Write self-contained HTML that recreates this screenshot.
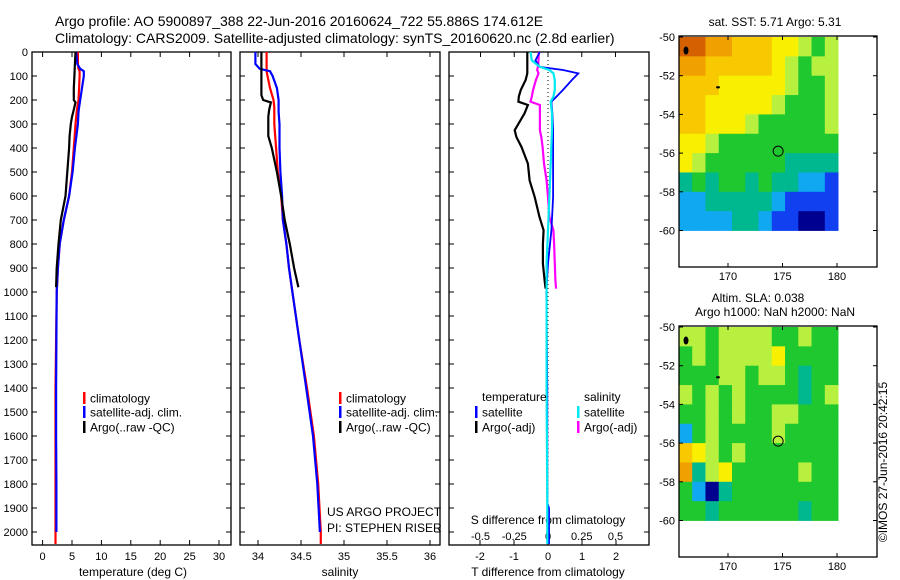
<!DOCTYPE html>
<html><head><meta charset="utf-8">
<style>
body{margin:0;background:#fff;}
svg{display:block;font-family:"Liberation Sans",sans-serif;}
text{fill:#000;}
</style></head>
<body>
<svg id="fig" width="900" height="580" viewBox="0 0 900 580" xmlns="http://www.w3.org/2000/svg">
<text x="55" y="26" font-size="14">Argo profile: AO 5900897_388 22-Jun-2016 20160624_722 55.886S 174.612E</text>
<text x="55" y="43" font-size="14">Climatology: CARS2009. Satellite-adjusted climatology: synTS_20160620.nc (2.8d earlier)</text>
<g id="p1"></g>
<g id="p2"></g>
<g id="p3"></g>
<g id="m1"></g>
<g id="m2"></g>
<text x="884" y="462" font-size="12" text-anchor="middle" transform="rotate(-90 884 462)" dominant-baseline="middle">©IMOS 27-Jun-2016 20:42:15</text>
</svg>
<script>
// ---- profile data ----
const depthClim = [0,20,50,70,80,100,150,200,230,250,300,400,500,600,700,800,900,1000,1200,1400,1600,1800,2000,2050];
const tempClim  = [6.0,6.0,6.0,6.1,6.3,6.3,6.2,6.1,5.9,5.8,5.6,5.3,5.0,4.5,3.6,2.9,2.6,2.4,2.3,2.2,2.2,2.2,2.2,2.2];
const tempSat   = [5.7,5.8,5.9,6.4,7.0,7.0,6.7,6.4,6.2,6.1,6.0,5.5,5.1,4.5,3.6,2.9,2.6,2.4,2.35,2.3,2.3,2.35,2.35,2.35];
const salClim   = [34.10,34.10,34.10,34.10,34.10,34.11,34.14,34.18,34.19,34.19,34.19,34.21,34.23,34.27,34.29,34.33,34.36,34.40,34.48,34.57,34.65,34.70,34.73,34.73];
const salSat    = [33.97,33.97,33.97,34.02,34.14,34.17,34.22,34.24,34.24,34.24,34.25,34.25,34.26,34.28,34.29,34.33,34.36,34.40,34.48,34.56,34.64,34.69,34.72,34.72];
const depthArgo = [0,50,100,150,180,200,210,240,270,300,350,400,500,600,700,800,900,980];
const tempArgo  = [5.6,5.5,5.4,5.3,5.3,5.3,5.6,5.3,5.0,4.8,4.6,4.5,4.2,3.9,3.1,2.7,2.4,2.3];
const salArgo   = [34.04,34.04,34.04,34.04,34.04,34.06,34.15,34.13,34.12,34.12,34.12,34.16,34.22,34.27,34.31,34.37,34.42,34.47];
const depthDiff = [0,35,62,75,89,117,158,186,207,221,256,326,354,396,465,535,604,688,743,799,882,951,986];
const tDiffArgo = [-0.61,-0.61,-0.61,-0.61,-0.61,-0.66,-0.80,-0.86,-0.87,-0.59,-0.69,-0.98,-0.93,-0.78,-0.59,-0.54,-0.39,-0.25,-0.13,-0.15,-0.15,-0.10,-0.07];
const sDiffArgo = [-0.068,-0.07,-0.075,-0.08,-0.07,-0.09,-0.11,-0.12,-0.13,-0.06,-0.06,-0.06,-0.05,-0.04,-0.03,-0.01,0.00,0.01,0.04,0.045,0.05,0.055,0.06];
const depthDiffSat = [0,35,62,75,89,117,158,186,207,256,326,465,604,743,882,1000,1400,1880,1900,2000,2050];
const tDiffSat  = [-0.24,-0.37,-0.24,0.44,0.89,0.70,0.44,0.25,0.10,0.13,0.15,0.15,0.15,0.10,0.0,-0.05,-0.02,-0.02,0.03,0.03,0.03];
const sDiffSat  = [-0.13,-0.12,-0.06,0.01,0.04,0.05,0.05,0.04,0.02,0.03,0.03,0.02,0.01,0.00,-0.01,-0.01,-0.01,-0.005,-0.005,-0.005,-0.005];
const depthTicks = [0,100,200,300,400,500,600,700,800,900,1000,1100,1200,1300,1400,1500,1600,1700,1800,1900,2000];
const tempTicks = [0,5,10,15,20,25,30];
const salTicks = [34,34.5,35,35.5,36];
const salTickLabels = ["34","34.5","35","35.5","36"];
const tDiffTicks = [-2,-1,0,1,2];
const sDiffTicks = [-0.5,-0.25,0,0.25,0.5];
const sDiffTickLabels = ["-0.5","-0.25","0","0.25","0.5"];

// ---- map data (palette indices) ----
const mapPalette = ["#d46000","#f0a000","#f8c800","#f8f000","#b8f040","#20c830","#00b890","#10a8f0","#1040f0","#000090"];
const sstGrid = [
[0,0,1,1,2,2,2,3,3,4,5,4],
[1,1,2,2,2,2,2,3,4,5,4,4],
[2,2,2,3,3,3,3,3,4,5,5,4],
[2,2,3,3,3,3,3,4,5,5,5,4],
[2,2,3,3,3,4,5,5,5,5,5,4],
[3,3,4,5,5,5,5,5,5,5,5,5],
[3,4,5,5,5,5,5,5,6,6,6,6],
[6,5,6,5,5,6,5,6,6,7,7,8],
[7,7,6,6,6,6,6,7,8,8,8,8],
[7,7,7,7,6,6,7,8,8,9,9,8]];
const slaGrid = [
[4,4,5,4,4,4,4,5,5,4,5,5],
[5,4,5,4,4,4,4,3,5,5,5,5],
[5,5,5,4,4,5,4,4,5,6,5,5],
[4,5,4,5,4,5,5,5,5,6,5,4],
[5,5,4,5,4,5,5,4,4,5,5,5],
[7,5,4,5,5,5,5,4,5,5,5,5],
[2,3,4,5,4,5,5,5,5,5,5,5],
[1,6,4,3,5,5,5,5,5,4,5,5],
[5,7,9,6,5,5,5,5,5,5,5,5],
[5,5,6,5,5,5,5,5,5,6,5,5]];
const latTicks = [-50,-52,-54,-56,-58,-60];
const lonTicks = [170,175,180];
const argoLon = 174.6, argoLat = -55.9;

const NS="http://www.w3.org/2000/svg";
function mk(parent,tag,attrs){const e=document.createElementNS(NS,tag);for(const k in attrs)e.setAttribute(k,attrs[k]);parent.appendChild(e);return e;}

const Y0=52, PY=0.24, YB=545;
const yD = d => Y0 + d*PY;

function panel(g,x0,x1,name){
  const r=mk(g,'rect',{x:x0,y:Y0,width:x1-x0,height:YB-Y0,fill:'none',stroke:'#000','stroke-width':1.3});
  
  
  depthTicks.forEach(d=>{
    mk(g,'line',{x1:x0,x2:x0+5,y1:yD(d),y2:yD(d),stroke:'#000'});
    mk(g,'line',{x1:x1-5,x2:x1,y1:yD(d),y2:yD(d),stroke:'#000'});
  });
}
function line(g,xs,ds,xf,color,name,w){
  const pts=xs.map((v,i)=>xf(v).toFixed(1)+','+yD(ds[i]).toFixed(1)).join(' ');
  const p=mk(g,'polyline',{points:pts,fill:'none',stroke:color,'stroke-width':w||2.2,'stroke-linejoin':'miter'});
  
  
}
function txt(g,x,y,s,size,anchor,name){
  const t=mk(g,'text',{x:x,y:y,'font-size':size,'text-anchor':anchor||'start'});
  t.textContent=s;
  
  
  return t;
}

// Panel 1: temperature
const g1=document.getElementById('p1');
const xT = t => 42.6 + 5.88*t;
panel(g1,32,231,'temperature');
depthTicks.forEach(d=>txt(g1,28,yD(d)+4,String(d),11,'end','depth-tick-label'));
tempTicks.forEach(t=>{
  mk(g1,'line',{x1:xT(t),x2:xT(t),y1:YB-5,y2:YB,stroke:'#000'});
  mk(g1,'line',{x1:xT(t),x2:xT(t),y1:Y0,y2:Y0+5,stroke:'#000'});
  txt(g1,xT(t),560,String(t),11,'middle','temperature-tick-label');
});
txt(g1,133,576,'temperature (deg C)',12,'middle','temperature-axis-title');
line(g1,tempClim,depthClim,xT,'#ff0000','temperature-climatology-line');
line(g1,tempSat,depthClim.slice(0,23),xT,'#0000ff','temperature-satellite-line');
line(g1,tempArgo,depthArgo,xT,'#000000','temperature-argo-line');
function legend(g,x,y,color,label,name){
  const r=mk(g,'rect',{x:x,y:y-6,width:2.5,height:12,fill:color});
  
  
  txt(g,x+7,y+4.5,label,12,'start',name+'-label');
}
legend(g1,83,398,'#ff0000','climatology','legend-climatology');
legend(g1,83,412,'#0000ff','satellite-adj. clim.','legend-satellite');
legend(g1,83,427,'#000000','Argo(..raw -QC)','legend-argo');

// Panel 2: salinity
const g2=document.getElementById('p2');
const xS = s => 258 + 86*(s-34);
panel(g2,240,440,'salinity');
salTicks.forEach((s,i)=>{
  mk(g2,'line',{x1:xS(s),x2:xS(s),y1:YB-5,y2:YB,stroke:'#000'});
  mk(g2,'line',{x1:xS(s),x2:xS(s),y1:Y0,y2:Y0+5,stroke:'#000'});
  txt(g2,xS(s),560,salTickLabels[i],11,'middle','salinity-tick-label');
});
txt(g2,340,576,'salinity',12,'middle','salinity-axis-title');
line(g2,salClim,depthClim,xS,'#ff0000','salinity-climatology-line');
line(g2,salSat,depthClim.slice(0,23),xS,'#0000ff','salinity-satellite-line');
line(g2,salArgo,depthArgo,xS,'#000000','salinity-argo-line');
legend(g2,339,398,'#ff0000','climatology','legend-climatology');
legend(g2,339,412,'#0000ff','satellite-adj. clim.','legend-satellite');
legend(g2,339,427,'#000000','Argo(..raw -QC)','legend-argo');
txt(g2,327,516,'US ARGO PROJECT',12,'start','project-credit');
txt(g2,327,532,'PI: STEPHEN RISER',12,'start','pi-credit');

// Panel 3: differences
const g3=document.getElementById('p3');
const xTd = t => 548 + 34*t;
const xSd = s => 548 + 135*s;
panel(g3,449,649,'difference');
mk(g3,'line',{x1:548,x2:548,y1:Y0,y2:YB,stroke:'#000','stroke-dasharray':'1,3'});
tDiffTicks.forEach(t=>{
  mk(g3,'line',{x1:xTd(t),x2:xTd(t),y1:YB-5,y2:YB,stroke:'#000'});
  txt(g3,xTd(t),560,String(t),11,'middle','t-difference-tick-label');
});
sDiffTicks.forEach((s,i)=>{
  mk(g3,'line',{x1:xSd(s),x2:xSd(s),y1:Y0,y2:Y0+5,stroke:'#000'});
  txt(g3,xSd(s),540,sDiffTickLabels[i],11,'middle','s-difference-tick-label');
});
txt(g3,548,524,'S difference from climatology',12,'middle','s-difference-axis-title');
txt(g3,548,576,'T difference from climatology',12,'middle','t-difference-axis-title');
line(g3,tDiffArgo,depthDiff,xTd,'#000000','t-difference-argo-line');
line(g3,sDiffArgo,depthDiff,xSd,'#ff00ff','s-difference-argo-line');
line(g3,tDiffSat,depthDiffSat,xTd,'#0000ff','t-difference-satellite-line',1.8);
line(g3,sDiffSat,depthDiffSat,xSd,'#00e8f0','s-difference-satellite-line');
txt(g3,482,401,'temperature',12,'start','legend-temperature-header');
txt(g3,584,401,'salinity',12,'start','legend-salinity-header');
legend(g3,475,412,'#0000ff','satellite','legend-t-satellite');
legend(g3,475,427,'#000000','Argo(-adj)','legend-t-argo');
legend(g3,577,412,'#00e8f0','satellite','legend-s-satellite');
legend(g3,577,427,'#ff00ff','Argo(-adj)','legend-s-argo');

// Maps
function map(g,top,grid,titles,name){
  const left=679, right=877, bottom=top+231;
  const xL = lon => 728 + (lon-170)*10.9;
  const yL = lat => top + 1 + (-50-lat)*19.35;
  const lon0=165.5, lon1=180.1, nC=grid[0].length;
  const cw=(xL(lon1)-xL(lon0))/nC;
  grid.forEach((row,r)=>row.forEach((v,c)=>{
    const cell=mk(g,'rect',{x:(xL(lon0)+c*cw).toFixed(2),y:yL(-50-r).toFixed(2),width:(cw+0.4).toFixed(2),height:19.75,fill:mapPalette[v]});
    
    
  }));
  const fr=mk(g,'rect',{x:left,y:top,width:right-left,height:bottom-top,fill:'none',stroke:'#000','stroke-width':1.3});
  
  
  latTicks.forEach(l=>{
    mk(g,'line',{x1:left,x2:left+4,y1:yL(l),y2:yL(l),stroke:'#000'});
    mk(g,'line',{x1:right-4,x2:right,y1:yL(l),y2:yL(l),stroke:'#000'});
    txt(g,675,yL(l)+4,String(l),11,'end',name+'-lat-label');
  });
  lonTicks.forEach(l=>{
    mk(g,'line',{x1:xL(l),x2:xL(l),y1:top,y2:top+4,stroke:'#000'});
    mk(g,'line',{x1:xL(l),x2:xL(l),y1:bottom-4,y2:bottom,stroke:'#000'});
    txt(g,xL(l),bottom+13,String(l),11,'middle',name+'-lon-label');
  });
  const c=mk(g,'circle',{cx:xL(argoLon),cy:yL(argoLat),r:5,fill:'none',stroke:'#000','stroke-width':1});
  
  
  mk(g,'ellipse',{cx:686,cy:yL(-50.7),rx:2.5,ry:4,fill:'#000'});
  mk(g,'ellipse',{cx:718,cy:yL(-52.6),rx:2,ry:1.2,fill:'#000'});
  titles.forEach((t,i)=>txt(g,t[1],t[2],t[0],12,'middle',name+'-title-'+(i+1)));
}
map(document.getElementById('m1'),36,sstGrid,[['sat. SST: 5.71  Argo: 5.31',775,26]],'sst-map');
map(document.getElementById('m2'),326,slaGrid,[['Altim. SLA: 0.038',758,302],['Argo h1000: NaN h2000: NaN',775,316]],'sla-map');
</script>
</body></html>
